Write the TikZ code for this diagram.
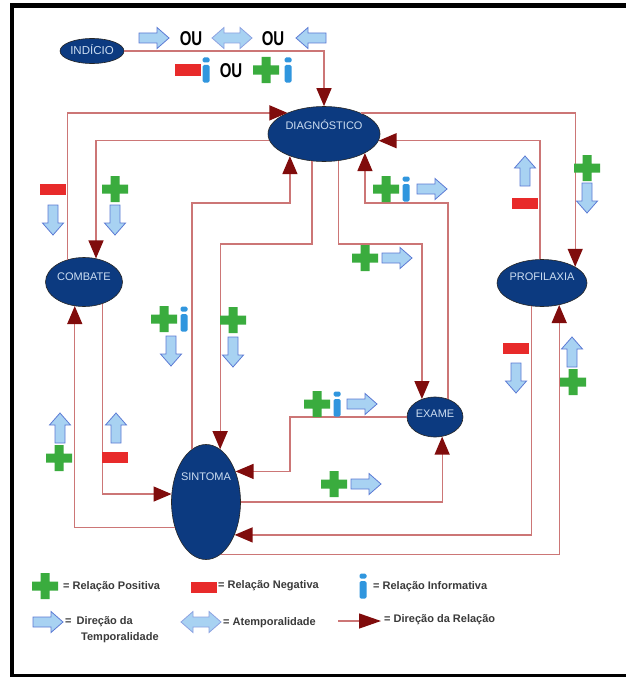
\documentclass[tikz,border=0pt]{standalone}
\usepackage{fontspec}
\setmainfont{Liberation Sans}
\usetikzlibrary{arrows.meta,shapes.geometric}

\definecolor{nodeblue}{RGB}{12,58,128}
\definecolor{nodetxt}{RGB}{205,222,242}
\definecolor{relline}{RGB}{204,118,118}
\definecolor{relhead}{RGB}{128,12,12}
\definecolor{posgreen}{RGB}{58,172,62}
\definecolor{negred}{RGB}{232,42,42}
\definecolor{infoblue}{RGB}{48,150,222}
\definecolor{tempfill}{RGB}{168,210,242}
\definecolor{tempdraw}{RGB}{92,122,212}
\definecolor{legendgray}{RGB}{58,58,58}

% text set inside an ellipse, lifted by #1 pt, without changing the ellipse size
\newcommand\elltext[2]{\raisebox{#1pt}[0pt][0pt]{\makebox[0pt]{#2}}}

\begin{document}
\begin{tikzpicture}[x=1pt,y=-1pt,
  ell/.style={ellipse, draw=black!85, line width=0.6pt, fill=nodeblue,
    inner sep=0pt, text=nodetxt, font=\fontsize{11}{12}\selectfont},
  rel/.style={draw=relline, line width=1.3pt,
    -{Triangle[length=18pt,width=15pt,color=relhead]}},
  legtext/.style={anchor=west, inner sep=0pt, text=legendgray,
    font=\fontsize{11}{16}\selectfont\bfseries},
  outext/.style={inner sep=0pt, text=black,
    font=\fontsize{20}{20}\selectfont\bfseries},
  pics/temparrow/.style={code={
    \draw[fill=tempfill, draw=tempdraw, line width=0.8pt, line join=miter]
      (-15,-5) -- (3,-5) -- (3,-10.5) -- (15,0) -- (3,10.5) -- (3,5)
      -- (-15,5) -- cycle;}},
  pics/atemparrow/.style={code={
    \draw[fill=tempfill, draw=tempdraw!70, line width=0.8pt]
      (-20,0) -- (-8,-10.5) -- (-8,-5) -- (8,-5) -- (8,-10.5) -- (20,0)
      -- (8,10.5) -- (8,5) -- (-8,5) -- (-8,10.5) -- cycle;}},
  pics/posmark/.style={code={
    \fill[posgreen] (-4.5,-13) -- (4.5,-13) -- (4.5,-4.5) -- (13,-4.5)
      -- (13,4.5) -- (4.5,4.5) -- (4.5,13) -- (-4.5,13) -- (-4.5,4.5)
      -- (-13,4.5) -- (-13,-4.5) -- (-4.5,-4.5) -- cycle;}},
  pics/negmark/.style={code={
    \fill[negred] (-13,-5.5) rectangle (13,5.5);}},
  pics/infomark/.style={code={
    \fill[infoblue, rounded corners=1.5pt] (-3.5,-12.5) rectangle (3.5,-7.5);
    \fill[infoblue, rounded corners=1.5pt] (-3.5,-5) rectangle (3.5,12.5);}}
]
\useasboundingbox (0,0) rectangle (626,677);
\fill[white] (0,0) rectangle (626,677);

% black frame (open on the right)
\fill[black] (10,3) rectangle (626,8);
\fill[black] (10,3) rectangle (14,677);
\fill[black] (10,674) rectangle (626,677);

% concepts
\node[ell, minimum width=64pt, minimum height=25pt] (ind) at (92,51)
  {\elltext{-3.9}{\fontsize{11.5}{12}\selectfont INDÍCIO}};
\node[ell, minimum width=112pt, minimum height=55pt] (diag) at (324,134)
  {\elltext{5}{DIAGNÓSTICO}};
\node[ell, minimum width=77pt, minimum height=49pt] (comb) at (84,282)
  {\elltext{2}{COMBATE}};
\node[ell, minimum width=90pt, minimum height=47pt] (prof) at (542,283)
  {\elltext{3}{PROFILAXIA}};
\node[ell, minimum width=56pt, minimum height=40pt] (exame) at (435,417)
  {\elltext{0}{EXAME}};
\node[ell, minimum width=69pt, minimum height=115pt] (sint) at (206,502)
  {\elltext{22}{SINTOMA}};

% relations
\draw[rel] (ind.east) -| (diag.north);
\draw[rel] (comb.126) |- (diag.150);
\draw[rel] (diag.187) -| (comb.63);
\draw[rel] (diag.30) -| (prof.26);
\draw[rel] (prof.95) |- (diag.353);
\draw[rel] (sint.105) -- (sint.105 |- 0,203) -| (diag.213);
\draw[rel] (diag.246) -- (diag.246 |- 0,244) -| (sint.75);
\draw[rel] (diag.298) -- (diag.298 |- 0,244) -| (exame.126);
\draw[rel] (exame.54) -- (exame.54 |- 0,203) -| (diag.335);
\draw[rel] (exame.west) -- (exame.west -| 290,0) |- (sint.46);
\draw[rel] (sint.east) -| (exame.290);
\draw[rel] (prof.246) |- (sint.311);
\draw[rel] (sint.286) -| (prof.308);
\draw[rel] (comb.310) |- (sint.167);
\draw[rel] (sint.219) -| (comb.249);

% header: kinds of relation from INDÍCIO
\pic at (154,38) {temparrow};
\node[outext] (ou1) at (191,39) {\scalebox{0.75}[1]{OU}};
\pic at (232,38) {atemparrow};
\node[outext] (ou2) at (273,39) {\scalebox{0.75}[1]{OU}};
\pic[rotate=180] at (311,38) {temparrow};
\pic at (188,70) {negmark};
\pic at (206,70) {infomark};
\node[outext] (ou3) at (231,71) {\scalebox{0.75}[1]{OU}};
\pic at (266,70) {posmark};
\pic at (288,70) {infomark};

% COMBATE <-> DIAGNÓSTICO
\pic at (53,189) {negmark};
\pic[rotate=-90] at (53,220) {temparrow};
\pic at (115,189) {posmark};
\pic[rotate=-90] at (115,220) {temparrow};

% PROFILAXIA <-> DIAGNÓSTICO
\pic[rotate=90] at (525,171) {temparrow};
\pic at (525,203) {negmark};
\pic at (587,168) {posmark};
\pic[rotate=-90] at (587,198) {temparrow};

% SINTOMA <-> DIAGNÓSTICO
\pic at (164,319) {posmark};
\pic at (184,319) {infomark};
\pic[rotate=-90] at (171,351) {temparrow};
\pic at (233,320) {posmark};
\pic[rotate=-90] at (233,352) {temparrow};

% EXAME <-> DIAGNÓSTICO
\pic at (386,189) {posmark};
\pic at (406,189) {infomark};
\pic at (432,189) {temparrow};
\pic at (365,258) {posmark};
\pic at (397,258) {temparrow};

% EXAME <-> SINTOMA
\pic at (317,404) {posmark};
\pic at (337,404) {infomark};
\pic at (362,404) {temparrow};
\pic at (334,484) {posmark};
\pic at (366,484) {temparrow};

% PROFILAXIA <-> SINTOMA
\pic at (516,348) {negmark};
\pic[rotate=-90] at (516,378) {temparrow};
\pic[rotate=90] at (572,352) {temparrow};
\pic at (573,382) {posmark};

% COMBATE <-> SINTOMA
\pic[rotate=90] at (116,428) {temparrow};
\pic at (115,457) {negmark};
\pic[rotate=90] at (60,428) {temparrow};
\pic at (59,458) {posmark};

% legend
\pic at (45,586) {posmark};
\node[legtext] (lgpos) at (63,587) {= Relação Positiva};
\pic at (204,587) {negmark};
\node[legtext] (lgneg) at (218,586) {= Relação Negativa};
\pic at (363,586) {infomark};
\node[legtext] (lginf) at (373,587) {= Relação Informativa};
\pic at (48,622) {temparrow};
\node[legtext, align=left] (lgtemp) at (65,630)
  {=\hspace{0.45em}Direção da\\\hspace*{16pt}Temporalidade};
\pic at (201,622) {atemparrow};
\node[legtext] (lgatemp) at (223,623) {= Atemporalidade};
\coordinate (lga) at (338,621);
\coordinate (lgb) at (381,621);
\draw[draw=relline, line width=1.3pt,
  -{Triangle[length=22pt,width=15pt,color=relhead]}] (lga) -- (lgb);
\node[legtext] (lgdir) at (384,620) {= Direção da Relação};
\end{tikzpicture}
\end{document}
